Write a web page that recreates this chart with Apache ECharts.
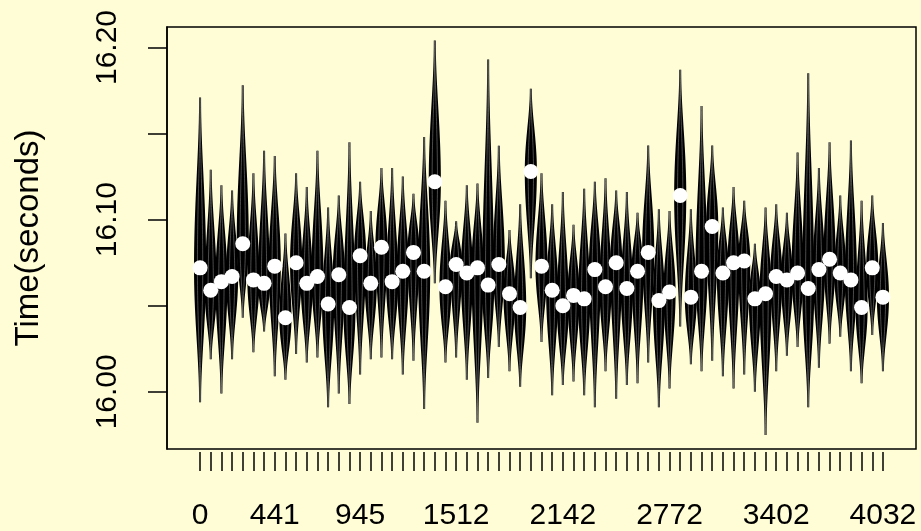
<!DOCTYPE html>
<html>
<head>
    <meta charset="UTF-8">
    <title>Violin timings</title>
    <script src="https://cdn.jsdelivr.net/npm/echarts/dist/echarts.min.js"></script>
    <style>
        body { margin: 0; background: #FEFDD6; }
    </style>
</head>
<body>
    <div id="chart" style="width: 921px;height:531px;"></div>
    <script type="text/javascript">
        var myChart = echarts.init(document.getElementById('chart'));

        // one violin per size step
        var categories = [0, 63, 126, 189, 252, 315, 378, 441, 504, 567, 630, 693, 756, 819, 882, 945,
            1008, 1071, 1134, 1197, 1260, 1323, 1386, 1449, 1512, 1575, 1638, 1701, 1764, 1827, 1890,
            1953, 2016, 2079, 2142, 2205, 2268, 2331, 2394, 2457, 2520, 2583, 2646, 2709, 2772, 2835,
            2898, 2961, 3024, 3087, 3150, 3213, 3276, 3339, 3402, 3465, 3528, 3591, 3654, 3717, 3780,
            3843, 3906, 3969, 4032];
        var xLabels = [0, 441, 945, 1512, 2142, 2772, 3402, 4032];

        // min / median / max of each violin (seconds)
        var lows = [15.994, 16.019, 15.999, 16.019, 16.043, 16.023, 16.035, 16.009, 16.007, 16.022,
            16.017, 16.020, 15.991, 15.999, 15.993, 16.010, 16.019, 16.020, 16.019, 16.010,
            16.018, 15.990, 16.063, 16.017, 16.020, 16.007, 15.982, 16.008, 16.026, 16.012,
            16.003, 16.066, 16.029, 15.998, 16.004, 16.006, 15.998, 15.991, 16.012, 15.996,
            16.004, 16.005, 16.017, 15.991, 16.002, 16.038, 16.016, 16.012, 16.018, 16.009,
            16.002, 16.010, 16.000, 15.975, 16.012, 16.021, 16.026, 15.991, 16.014, 16.028,
            16.032, 16.012, 16.005, 16.033, 16.012];
        var medians = [16.072, 16.059, 16.064, 16.067, 16.086, 16.065, 16.063, 16.073, 16.043, 16.075,
            16.063, 16.067, 16.051, 16.068, 16.049, 16.079, 16.063, 16.084, 16.064, 16.070,
            16.081, 16.070, 16.122, 16.061, 16.074, 16.069, 16.072, 16.062, 16.074, 16.057,
            16.049, 16.128, 16.073, 16.059, 16.050, 16.056, 16.054, 16.071, 16.061, 16.075,
            16.060, 16.070, 16.081, 16.053, 16.058, 16.114, 16.055, 16.070, 16.096, 16.069,
            16.075, 16.076, 16.054, 16.057, 16.067, 16.065, 16.069, 16.060, 16.071, 16.077,
            16.069, 16.065, 16.049, 16.072, 16.055];
        var highs = [16.171, 16.129, 16.120, 16.117, 16.178, 16.127, 16.140, 16.137, 16.092, 16.127,
            16.119, 16.140, 16.107, 16.114, 16.145, 16.122, 16.105, 16.130, 16.130, 16.125,
            16.115, 16.148, 16.204, 16.111, 16.099, 16.120, 16.121, 16.193, 16.143, 16.094,
            16.109, 16.176, 16.127, 16.109, 16.116, 16.097, 16.118, 16.122, 16.124, 16.117,
            16.116, 16.104, 16.143, 16.106, 16.105, 16.187, 16.106, 16.166, 16.143, 16.107,
            16.119, 16.111, 16.086, 16.107, 16.109, 16.104, 16.139, 16.185, 16.130, 16.145,
            16.114, 16.146, 16.111, 16.114, 16.098];

        var yTicks = [16.00, 16.05, 16.10, 16.15, 16.20];
        var yLabels = [16.00, 16.10, 16.20];

        var fontFamily = 'Liberation Sans, Arial, sans-serif';

        var violinData = categories.map(function (c, i) {
            return [c, lows[i], medians[i], highs[i]];
        });
        var medianData = categories.map(function (c, i) {
            return [c, medians[i]];
        });

        // builds the violin outline, scaled by f (1 = full width)
        function outline(api, x, lo, md, hi, f) {
            var hw = api.size([31.5, 0])[0] * f;
            var n = 60;
            var left = [], right = [];
            for (var j = 0; j <= n; j++) {
                var v = lo + (hi - lo) * j / n;
                var t = v < md ? (md - v) / (md - lo) : (v - md) / (hi - md);
                var w = Math.pow(Math.max(0, 1 - t * t), 2.2);
                var p = api.coord([x, v]);
                left.push([p[0] - hw * w, p[1]]);
                right.push([p[0] + hw * w, p[1]]);
            }
            return left.concat(right.reverse());
        }

        function renderViolin(params, api) {
            var x = api.value(0), lo = api.value(1), md = api.value(2), hi = api.value(3);
            return {
                type: 'group',
                children: [
                    {
                        type: 'polygon',
                        shape: { points: outline(api, x, lo, md, hi, 0.95) },
                        style: { fill: '#000', stroke: '#000', lineWidth: 2 }
                    },
                    {
                        type: 'polygon',
                        shape: { points: outline(api, x, lo, md, hi, 0.5) },
                        style: { fill: null, stroke: '#999', lineWidth: 0.5 }
                    }
                ]
            };
        }

        var option = {
            backgroundColor: '#FEFDD6',
            animation: false,
            grid: {
                left: 167, right: 5, top: 27, bottom: 76,
                show: true,
                borderColor: '#000',
                borderWidth: 1.5,
                backgroundColor: 'transparent'
            },
            xAxis: {
                type: 'value',
                min: -195.3,
                max: 4227.3,
                offset: 3,
                splitLine: { show: false },
                axisLine: { show: false, onZero: false },
                axisTick: {
                    show: true,
                    length: 19,
                    customValues: categories,
                    lineStyle: { color: '#000', width: 1.5 }
                },
                axisLabel: {
                    customValues: xLabels,
                    fontSize: 30,
                    fontFamily: fontFamily,
                    color: '#000',
                    margin: 49,
                    formatter: function (value) {
                        return String(value);
                    }
                }
            },
            yAxis: {
                type: 'value',
                min: 15.9668,
                max: 16.2119,
                name: 'Time(seconds)',
                nameLocation: 'middle',
                nameGap: 122,
                nameTextStyle: { fontSize: 33, fontFamily: fontFamily, color: '#000' },
                splitLine: { show: false },
                axisLine: { show: true, onZero: false, lineStyle: { color: '#000', width: 1.5 } },
                axisTick: {
                    show: true,
                    length: 19,
                    customValues: yTicks,
                    lineStyle: { color: '#000', width: 1.5 }
                },
                axisLabel: {
                    customValues: yLabels,
                    rotate: 90,
                    fontSize: 30,
                    fontFamily: fontFamily,
                    color: '#000',
                    margin: 44,
                    formatter: function (value) {
                        return value.toFixed(2);
                    }
                }
            },
            series: [
                {
                    name: 'violins',
                    type: 'custom',
                    renderItem: renderViolin,
                    data: violinData,
                    encode: { x: 0, y: [1, 2, 3] },
                    z: 2
                },
                {
                    name: 'median',
                    type: 'scatter',
                    data: medianData,
                    symbol: 'circle',
                    symbolSize: 15,
                    itemStyle: { color: '#fff', opacity: 1 },
                    z: 3
                }
            ]
        };

        myChart.setOption(option);
    </script>
</body>
</html>
